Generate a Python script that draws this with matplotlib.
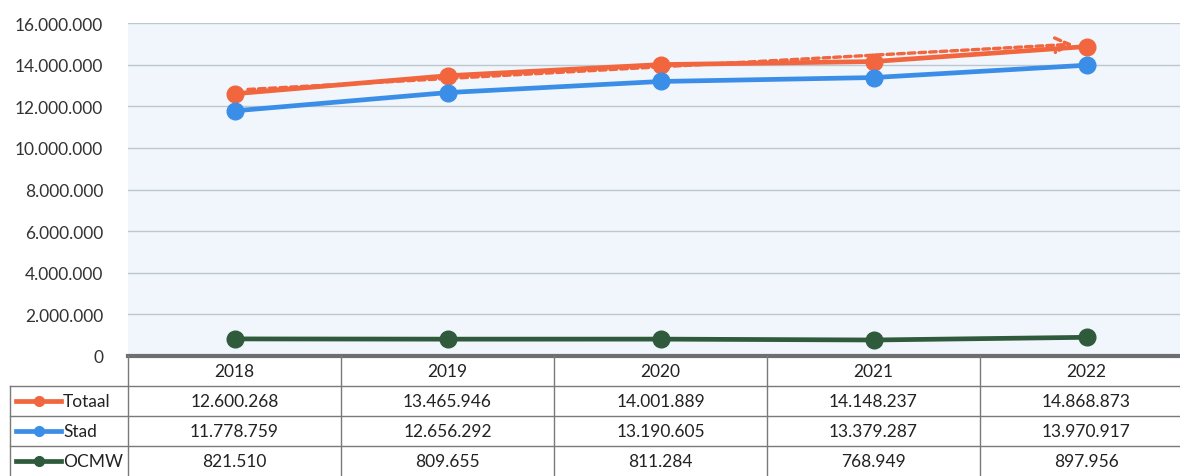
import matplotlib.pyplot as plt
from matplotlib.lines import Line2D

plt.rcParams['font.family'] = ['Lato', 'DejaVu Sans']

jaren = ['2018', '2019', '2020', '2021', '2022']
totaal = [12600268, 13465946, 14001889, 14148237, 14868873]
stad = [11778759, 12656292, 13190605, 13379287, 13970917]
ocmw = [821510, 809655, 811284, 768949, 897956]
yticks = [0, 2000000, 4000000, 6000000, 8000000, 10000000, 12000000, 14000000, 16000000]

series = [('Totaal', totaal, '#f2663f'),
          ('Stad', stad, '#3b8ee8'),
          ('OCMW', ocmw, '#2f5a3c')]


def fmt(v):
    return f'{v:,}'.replace(',', '.')


W, H = 1180, 477
fig = plt.figure(figsize=(W / 100, H / 100), dpi=100)
fig.patch.set_facecolor('white')

x0, col_w = 128, 213
top, zero = 24, 357
ax = fig.add_axes([x0 / W, 1 - zero / H, 5 * col_w / W, (zero - top) / H])
ax.set_facecolor('#f0f6fb')
xs = list(range(len(jaren)))

for name, vals, col in series:
    ax.plot(xs, vals, '-o', color=col, lw=3.4, ms=12, zorder=3)

# handgetekende pijl boven de Totaal-lijn
ax.annotate('', xy=(xs[-1] - 0.05, totaal[-1] + 120000),
            xytext=(xs[0] + 0.05, totaal[0] + 200000),
            arrowprops=dict(arrowstyle='->', color='#f2663f', lw=2.4,
                            ls=(0, (2, 1.2)), mutation_scale=26), zorder=2)

ax.set_xlim(-0.5, 4.5)
ax.set_ylim(0, 16000000)
ax.set_yticks(yticks)
ax.set_yticklabels([fmt(v) for v in yticks], fontsize=12.5, color='#333333')
ax.set_xticks([])
ax.tick_params(axis='y', length=0, pad=18)
ax.grid(axis='y', color='#bcc7cf', lw=1)
for s in ax.spines.values():
    s.set_visible(False)

# tabel onder de grafiek
tab = fig.add_axes([x0 / W, 0, 5 * col_w / W, (H - zero) / H])
tab.set_xlim(-0.5, 4.5)
tab.set_ylim(4, 0)
tab.axis('off')
lc = '#7a7a7a'
left = -0.5 - (x0 - 10) / col_w

tab.plot([-0.5, 4.5], [0, 0], color='#6e6e6e', lw=3, clip_on=False)
for i in range(6):
    tab.plot([i - 0.5, i - 0.5], [0, 4], color=lc, lw=1, clip_on=False)
tab.plot([left, left], [1, 4], color=lc, lw=1, clip_on=False)
for r in [1, 2, 3]:
    tab.plot([left, 4.5], [r, r], color=lc, lw=1, clip_on=False)

for i, j in enumerate(jaren):
    tab.text(i, 0.5, j, ha='center', va='center', fontsize=12.5, color='#222222')

for r, (name, vals, col) in enumerate(series, start=1):
    lx = [left + 0.03, left + 0.24]
    tab.add_line(Line2D(lx, [r + 0.5] * 2, color=col, lw=3.4, clip_on=False))
    tab.plot([sum(lx) / 2], [r + 0.5], 'o', color=col, ms=7, clip_on=False)
    tab.text(left + 0.25, r + 0.5, name, ha='left', va='center', fontsize=12.5,
             color='#222222', clip_on=False)
    for i, v in enumerate(vals):
        tab.text(i, r + 0.5, fmt(v), ha='center', va='center', fontsize=12.5,
                 color='#222222')

fig.savefig('out.png', dpi=100)
